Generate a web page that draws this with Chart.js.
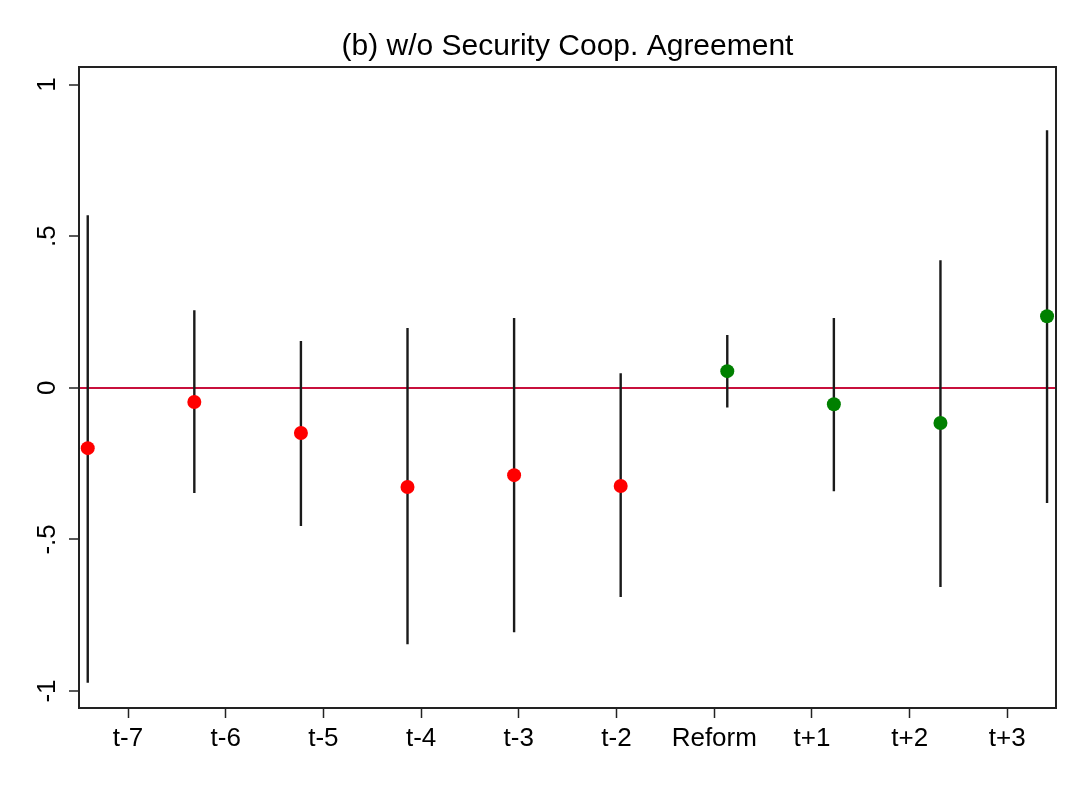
<!DOCTYPE html>
<html>
<head>
<meta charset="utf-8">
<script src="https://cdn.jsdelivr.net/npm/chart.js@4/dist/chart.umd.min.js"></script>
<style>
    body { margin: 0; background: #fff; }
    canvas { display: block; }
</style>
</head>
<body>
<canvas id="coefChart" width="1084" height="788"></canvas>
<script>
const periods = ['t-7', 't-6', 't-5', 't-4', 't-3', 't-2', 'Reform', 't+1', 't+2', 't+3'];
const estimates = [-0.199, -0.047, -0.149, -0.327, -0.288, -0.324, 0.055, -0.054, -0.116, 0.236];
const ciLow = [-0.973, -0.347, -0.456, -0.846, -0.806, -0.690, -0.065, -0.341, -0.657, -0.380];
const ciHigh = [0.569, 0.256, 0.154, 0.197, 0.230, 0.048, 0.174, 0.230, 0.421, 0.849];
const preCount = 6;

// the axis labels sit on their own evenly spaced ticks, not under the markers
const xTickPositions = [1.378, 2.295, 3.211, 4.128, 5.044, 5.961, 6.878, 7.794, 8.711, 9.627];
const yTickValues = [-1, -0.5, 0, 0.5, 1];
const yTickLabels = ['-1', '-.5', '0', '.5', '1'];

const font = 'Liberation Sans, Arial, Helvetica, sans-serif';

const points = estimates.map((v, i) => ({ x: i + 1, y: v }));
const ciSegments = [];
ciLow.forEach((lo, i) => {
    ciSegments.push({ x: i + 1, y: lo }, { x: i + 1, y: ciHigh[i] }, { x: i + 1, y: null });
});

const framePlugin = {
    id: 'frame',
    afterDatasetsDraw(chart) {
        const { ctx, chartArea: a } = chart;
        ctx.save();
        ctx.strokeStyle = '#222';
        ctx.lineWidth = 2;
        ctx.strokeRect(a.left, a.top, a.right - a.left, a.bottom - a.top);
        ctx.restore();
    },
};

new Chart(document.getElementById('coefChart'), {
    type: 'scatter',
    data: {
        datasets: [
            {
                data: points,
                pointRadius: 7,
                pointHoverRadius: 7,
                pointBorderWidth: 0,
                pointBackgroundColor: estimates.map((_, i) => (i < preCount ? '#ff0000' : '#008000')),
            },
            {
                type: 'line',
                data: ciSegments,
                borderColor: '#1a1a1a',
                borderWidth: 2.4,
                pointRadius: 0,
                spanGaps: false,
            },
        ],
    },
    options: {
        responsive: false,
        animation: false,
        layout: { padding: { left: 0, right: 28, top: 0, bottom: 0 } },
        plugins: {
            legend: { display: false },
            tooltip: { enabled: false },
            title: {
                display: true,
                fullSize: false,
                text: '(b) w/o Security Coop. Agreement',
                color: '#000',
                font: { family: font, size: 30, weight: 'normal' },
                padding: { top: 29, bottom: 2 },
            },
        },
        scales: {
            x: {
                type: 'linear',
                min: 0.918,
                max: 10.084,
                afterBuildTicks: (scale) => {
                    scale.ticks = xTickPositions.map((v) => ({ value: v }));
                },
                afterFit: (scale) => {
                    scale.height = 80;
                },
                ticks: {
                    color: '#000',
                    font: { family: font, size: 26 },
                    padding: 5,
                    maxRotation: 0,
                    autoSkip: false,
                    callback: (value, index) => periods[index],
                },
                grid: { drawOnChartArea: false, tickLength: 10, tickColor: '#222', tickWidth: 1.5 },
                border: { display: false },
            },
            y: {
                min: -1.056,
                max: 1.058,
                afterBuildTicks: (scale) => {
                    scale.ticks = yTickValues.map((v) => ({ value: v }));
                },
                afterFit: (scale) => {
                    scale.width = 79;
                },
                ticks: {
                    color: '#000',
                    font: { family: font, size: 26 },
                    padding: 6,
                    minRotation: 90,
                    crossAlign: 'center',
                    callback: (value, index) => yTickLabels[index],
                },
                grid: {
                    color: (ctx) => (ctx.tick && ctx.tick.value === 0 ? '#c8103c' : 'rgba(0,0,0,0)'),
                    lineWidth: 2,
                    tickLength: 10,
                    tickColor: '#222',
                    tickWidth: 1.5,
                },
                border: { display: false },
            },
        },
    },
    plugins: [framePlugin],
});
</script>
</body>
</html>
